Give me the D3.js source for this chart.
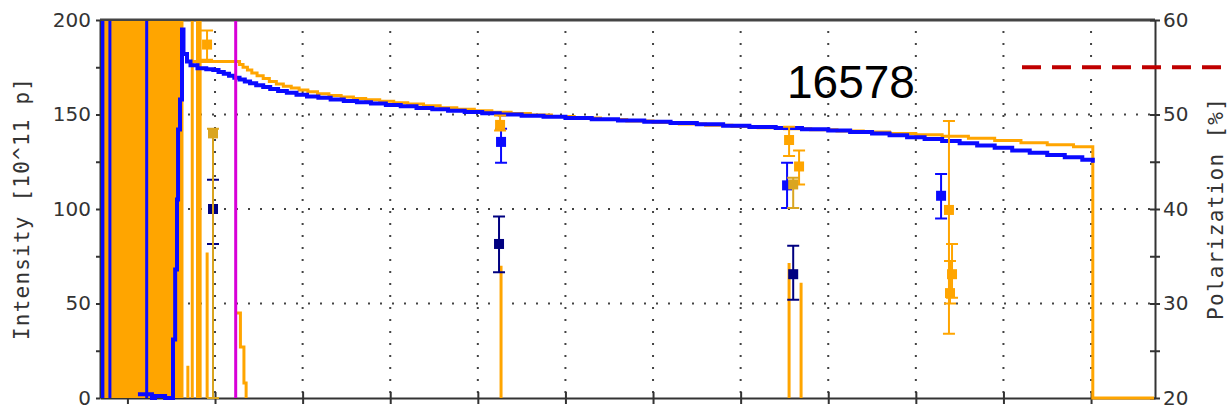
<!DOCTYPE html>
<html><head><meta charset="utf-8">
<script src="https://cdn.jsdelivr.net/npm/d3@7"></script>
<style>body{margin:0;background:#fff}svg{display:block}</style>
</head><body>
<svg id="c" width="1230" height="419"></svg>
<script>
// ---- data ----
const xTicks = [0,1,2,3,4,5,6,7,8,9,10,11];
const intensityTicks = [0,25,50,75,100,125,150,175,200];
const polTicks = [20,25,30,35,40,45,50,55,60];
const fillNumber = "16578";
const refPolarization = 55;
// noisy injection region (orange band) [t0, t1]
const orangeBand = [-0.313, 0.64];
const blueSpikes = [-0.296, -0.28, -0.2, 0.22];
const orangeSpikes = [
  {t:0.69, top:17},{t:0.74, top:210},{t:0.80, top:210},{t:0.83, top:210},{t:0.91, top:77},
  {t:4.265, top:70},{t:7.553, top:71.4},{t:7.69, top:61}
];
const magentaT = 1.236;
// intensity series [t, I]
const blueIntensity = [
  [0.12,2],[0.28,0],[0.315,1],[0.43,0],[0.52,31],[0.545,68],[0.566,105],[0.578,142],[0.6,158],[0.623,195],
  [0.64,182],[0.68,178],[0.72,176],[0.8,174.5],[0.9,174],[0.98,173.5],[1.04,172.5],[1.1,171.5],[1.16,170.5],
  [1.22,169.5],[1.28,168.5],[1.34,167.5],[1.4,166.5],[1.47,165.5],[1.55,164.5],[1.63,163.5],[1.72,162.5],
  [1.82,161.5],[1.93,160.5],[2.05,159.5],[2.18,158.8],[2.32,158],[2.47,157.2],[2.62,156.5],[2.78,155.8],
  [2.95,155],[3.12,154.3],[3.3,153.5],[3.48,152.8],[3.66,152],[3.85,151.3],[4.05,150.7],[4.25,150],
  [4.5,149.4],[4.75,148.8],[5.0,148.2],[5.3,147.5],[5.6,146.8],[5.9,146.2],[6.2,145.5],[6.5,144.8],
  [6.8,144],[7.1,143.4],[7.4,142.8],[7.7,142.2],[8.0,141.5],[8.25,140.8],[8.5,140],[8.7,139],[8.9,138],
  [9.1,137],[9.3,136],[9.5,134.8],[9.7,133.6],[9.9,132.4],[10.1,131],[10.3,129.8],[10.5,128.6],
  [10.7,127.4],[10.9,126],[11.02,124.5]
];
const orangeIntensity = [
  [0.7,178],[1.25,178],[1.28,176.5],[1.32,175],[1.37,173.5],[1.42,172],[1.48,170.5],[1.55,169],[1.62,167.5],
  [1.7,166.2],[1.78,165],[1.87,164],[1.96,163],[2.06,162],[2.17,161],[2.3,160],[2.44,159.2],[2.58,158.5],
  [2.72,157.8],[2.88,157],[3.04,156.2],[3.2,155.5],[3.38,154.6],[3.57,153.6],[3.76,152.8],[3.96,152],
  [4.16,151.2],[4.38,150.5],[4.6,149.8],[4.84,149],[5.1,148.2],[5.4,147.4],[5.7,146.6],[6.0,145.8],
  [6.3,145],[6.6,144.3],[6.9,143.6],[7.2,143],[7.5,142.4],[7.8,141.9],[8.1,141.3],[8.4,140.7],[8.7,140],
  [9.0,139.3],[9.3,138.5],[9.6,137.5],[9.9,136.3],[10.2,135],[10.5,134],[10.8,133],[11.02,132.3],
  [11.02,0],[11.73,0]
];
const orangeTail = [[1.245,45],[1.29,27],[1.33,8],[1.355,0]];
// polarization measurements
const bluePol = [{t:4.265,p:47.1,lo:44.9,hi:48.5},{t:7.53,p:42.5,lo:40.1,hi:44.9},{t:9.288,p:41.4,lo:39.0,hi:43.7}];
const navyPol = [{t:0.977,p:40.0,lo:36.3,hi:43.1},{t:4.242,p:36.3,lo:33.3,hi:39.2},{t:7.6,p:33.1,lo:30.4,hi:36.1}];
const orangePol = [{t:0.909,p:57.4,lo:55.8,hi:58.9},{t:4.254,p:48.9,lo:48.3,hi:49.9},{t:7.553,p:47.3,lo:45.6,hi:48.7},
  {t:7.667,p:44.5,lo:42.6,hi:46.2},{t:9.378,p:39.9,lo:26.8,hi:49.3},{t:9.413,p:33.1,lo:30.6,hi:36.3},{t:9.39,p:31.1,lo:30.0,hi:34.5}];
const goldPol = [{t:0.977,p:48.0,lo:20,hi:48.5},{t:7.6,p:42.6,lo:40.1,hi:43.3}];

// ---- layout ----
const L=100, R=1155, T=20, B=398;
const svg = d3.select("#c");
const x = d3.scaleLinear().domain([-0.313, 11.73]).range([L, R]);
const yL = d3.scaleLinear().domain([0,200]).range([B, T]);
const yR = d3.scaleLinear().domain([20,60]).range([B, T]);
const C = {blue:"#0a0aff", orange:"#ffa500", gold:"#daa520", navy:"#000080", magenta:"#d800d8", axis:"#333"};

svg.append("clipPath").attr("id","clip").append("rect")
  .attr("x",L+1).attr("y",T+1).attr("width",R-L-2).attr("height",B-T+1.5);

// grid
const grid = svg.append("g").attr("stroke","#444").attr("stroke-width",2).attr("stroke-dasharray","2,10");
[50,100,150].forEach(v=>grid.append("line").attr("x1",L+4).attr("x2",R).attr("y1",yL(v)).attr("y2",yL(v)));
xTicks.forEach(t=>grid.append("line").attr("x1",x(t)).attr("x2",x(t)).attr("y1",T+11).attr("y2",B));

// axes
const fontTick = "'DejaVu Sans', Verdana, sans-serif";
function styleAxis(g){ g.selectAll("path,line").attr("stroke",C.axis).attr("stroke-width",2);
  g.selectAll("text").attr("fill","#333").style("font-family",fontTick).style("font-size","20px"); }
svg.append("line").attr("x1",L).attr("x2",R).attr("y1",T).attr("y2",T).attr("stroke","#444").attr("stroke-width",3);
svg.append("g").attr("transform",`translate(${L},0)`)
  .call(d3.axisLeft(yL).tickValues(intensityTicks).tickSizeInner(4).tickSizeOuter(0).tickPadding(5)
    .tickFormat(d=> d%50===0 ? d : "")).call(styleAxis);
svg.append("g").attr("transform",`translate(${R},0)`)
  .call(d3.axisRight(yR).tickValues(polTicks).tickSizeInner(5).tickSizeOuter(0).tickPadding(3)
    .tickFormat(d=> d%10===0 ? d : "")).call(styleAxis);
svg.append("g").attr("transform",`translate(${R},0)`)
  .call(d3.axisLeft(yR).tickValues(polTicks).tickSizeInner(5).tickSizeOuter(0).tickFormat(""))
  .call(styleAxis).select(".domain").remove();
svg.append("g").attr("transform",`translate(0,${B})`)
  .call(d3.axisBottom(x).tickValues(xTicks).tickSizeInner(6).tickSizeOuter(0).tickFormat("")).call(styleAxis);
svg.append("g").attr("transform",`translate(0,${B})`)
  .call(d3.axisTop(x).tickValues(xTicks.slice(1)).tickSizeInner(6).tickSizeOuter(0).tickFormat(""))
  .call(styleAxis).select(".domain").remove();

// axis titles
svg.append("text").attr("transform",`translate(29,209) rotate(-90)`).attr("text-anchor","middle")
  .attr("textLength",262).attr("lengthAdjust","spacing")
  .style("font-family","'DejaVu Sans Mono', monospace").style("font-size","21px").attr("fill","#333")
  .text("Intensity [10^11 p]");
svg.append("text").attr("transform",`translate(1223,209) rotate(-90)`).attr("text-anchor","middle")
  .attr("textLength",222).attr("lengthAdjust","spacing")
  .style("font-family","'DejaVu Sans Mono', monospace").style("font-size","21px").attr("fill","#333")
  .text("Polarization [%]");

// series
const plot = svg.append("g").attr("clip-path","url(#clip)");
plot.append("rect").attr("x",x(orangeBand[0])).attr("width",x(orangeBand[1])-x(orangeBand[0]))
  .attr("y",yL(200)).attr("height",yL(0)-yL(200)).attr("fill",C.orange);
plot.selectAll(".bs").data(blueSpikes).join("line").attr("x1",d=>x(d)).attr("x2",d=>x(d))
  .attr("y1",yL(0)).attr("y2",yL(210)).attr("stroke",C.blue).attr("stroke-width",3);
plot.selectAll(".os").data(orangeSpikes).join("line").attr("x1",d=>x(d.t)).attr("x2",d=>x(d.t))
  .attr("y1",yL(0)).attr("y2",d=>yL(d.top)).attr("stroke",C.orange).attr("stroke-width",3);
const stepLine = d3.line().x(d=>x(d[0])).y(d=>yL(d[1])).curve(d3.curveStepAfter);
plot.append("path").attr("d",stepLine(orangeIntensity)).attr("fill","none").attr("stroke",C.orange).attr("stroke-width",3);
plot.append("path").attr("d",stepLine(orangeTail)).attr("fill","none").attr("stroke",C.orange).attr("stroke-width",3);
plot.append("path").attr("d",stepLine(blueIntensity)).attr("fill","none").attr("stroke",C.blue).attr("stroke-width",4);
plot.append("line").attr("x1",x(magentaT)).attr("x2",x(magentaT)).attr("y1",T).attr("y2",B)
  .attr("stroke",C.magenta).attr("stroke-width",3);

function drawPts(data,color){
  const g = plot.append("g");
  data.forEach(d=>{
    const cx = x(d.t);
    g.append("line").attr("x1",cx).attr("x2",cx).attr("y1",yR(d.lo)).attr("y2",yR(d.hi)).attr("stroke",color).attr("stroke-width",2);
    [d.lo,d.hi].forEach(v=>g.append("line").attr("x1",cx-6).attr("x2",cx+6).attr("y1",yR(v)).attr("y2",yR(v))
      .attr("stroke",color).attr("stroke-width",2));
    g.append("rect").attr("x",cx-5).attr("y",yR(d.p)-5).attr("width",10).attr("height",10).attr("fill",color);
  });
}
drawPts(bluePol,C.blue);
drawPts(navyPol,C.navy);
drawPts(orangePol,C.orange);
drawPts(goldPol,C.gold);

// reference polarization line
svg.append("line").attr("x1",1022).attr("x2",1230).attr("y1",yR(refPolarization)).attr("y2",yR(refPolarization))
  .attr("stroke","#c00000").attr("stroke-width",4).attr("stroke-dasharray","19,11");

svg.append("text").attr("x",787).attr("y",98).text(fillNumber)
  .style("font-family","'Liberation Sans', Arial, sans-serif").style("font-size","46px").attr("fill","#000");
</script>
</body></html>
